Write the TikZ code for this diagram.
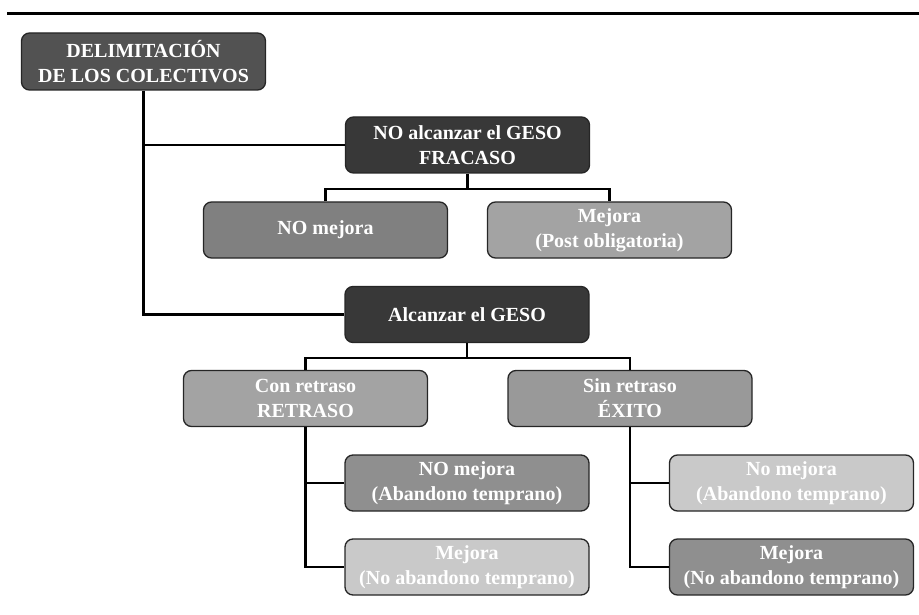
\documentclass[tikz,border=0pt]{standalone}
\usepackage{fontspec}
\setmainfont{Liberation Serif}
\usepackage{xcolor}
\usepackage{tikz}

\definecolor{darkbox}{gray}{0.22}
\definecolor{delimbox}{gray}{0.32}
\definecolor{midbox}{gray}{0.50}
\definecolor{greybox}{gray}{0.56}
\definecolor{softbox}{gray}{0.60}
\definecolor{paleboxA}{gray}{0.64}
\definecolor{lightbox}{gray}{0.79}

\tikzset{
  box/.style={draw=black!85, line width=1.3pt, rounded corners=8pt,
    minimum width=244pt, minimum height=56pt, align=center,
    text=white, font=\fontsize{20}{25}\selectfont\bfseries},
  link/.style={line width=2.8pt}
}

\begin{document}
\begin{tikzpicture}[x=1pt,y=-1pt]
  \useasboundingbox (0,0) rectangle (919,615);

  % Top rule
  \draw[line width=2.8pt] (7,13.5) -- (919,13.5);

  % Root
  \node[box, fill=delimbox, minimum height=57pt] (delim) at (143.5,61.5) {DELIMITACIÓN\\DE LOS COLECTIVOS};

  % First branch
  \node[box, fill=darkbox] (noalc) at (467.5,145) {NO alcanzar el GESO\\FRACASO};
  \node[box, fill=midbox] (nomej) at (325.5,230) {NO mejora};
  \node[box, fill=paleboxA] (mejpost) at (609.5,230) {Mejora\\(Post obligatoria)};

  % Second branch
  \node[box, fill=darkbox] (alc) at (467,314.5) {Alcanzar el GESO};
  \node[box, fill=paleboxA] (conret) at (305.5,398.5) {Con retraso\\RETRASO};
  \node[box, fill=softbox] (sinret) at (630,398.5) {Sin retraso\\ÉXITO};

  % Leaves
  \node[box, fill=greybox] (nomejabl) at (467,483) {NO mejora\\(Abandono temprano)};
  \node[box, fill=lightbox] (mejnoabl) at (467,567) {Mejora\\(No abandono temprano)};
  \node[box, fill=lightbox] (nomejabr) at (791.5,483) {No mejora\\(Abandono temprano)};
  \node[box, fill=greybox] (mejnoabr) at (791.5,567) {Mejora\\(No abandono temprano)};

  % Connectors
  \coordinate (forkfr) at (467.5,189);
  \coordinate (forkal) at (467,358);
  \draw[link] (delim.south) |- (alc.west);
  \draw[link] (delim.south |- noalc.west) -- (noalc.west);
  \draw[link] (noalc.south) -- (forkfr);
  \draw[link] (nomej.north) |- (forkfr) -| (mejpost.north);
  \draw[link] (alc.south) -- (forkal);
  \draw[link] (conret.north) |- (forkal) -| (sinret.north);
  \draw[link] (conret.south) |- (mejnoabl.west);
  \draw[link] (conret.south |- nomejabl.west) -- (nomejabl.west);
  \draw[link] (sinret.south) |- (mejnoabr.west);
  \draw[link] (sinret.south |- nomejabr.west) -- (nomejabr.west);

\end{tikzpicture}
\end{document}
